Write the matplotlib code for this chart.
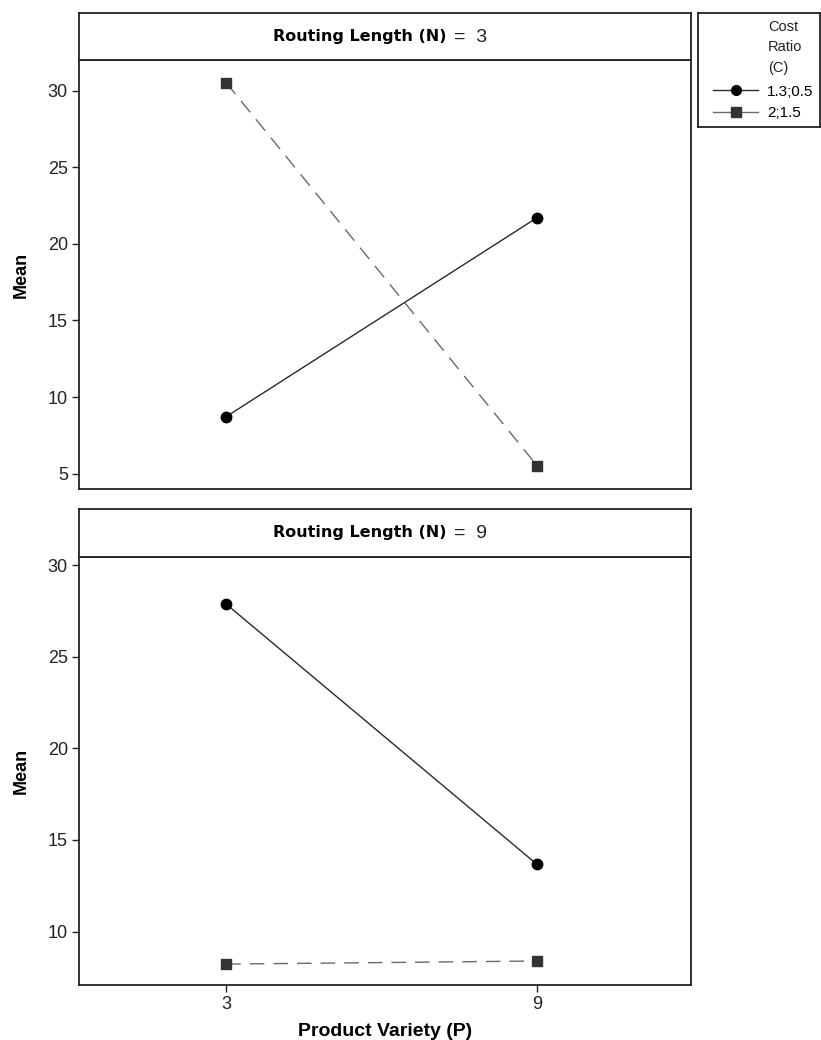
import matplotlib.pyplot as plt
from matplotlib.lines import Line2D

plt.rcParams['font.family'] = ['Liberation Sans', 'DejaVu Sans']

# data
product_variety = [3, 9]
routing_lengths = ['3', '9']
cost_ratios = ['1.3;0.5', '2;1.5']
means_n3 = {'1.3;0.5': [8.72, 21.71], '2;1.5': [30.52, 5.52]}
means_n9 = {'1.3;0.5': [27.87, 13.66], '2;1.5': [8.22, 8.39]}
panel_means = [means_n3, means_n9]
y_ticks = [[5, 10, 15, 20, 25, 30], [10, 15, 20, 25, 30]]
y_limits = [(4.0, 32.0), (7.08, 30.44)]

styles = {
    '1.3;0.5': dict(color='#2a2a2a', linestyle='-', marker='o', markersize=7.5,
                    markerfacecolor='black', markeredgecolor='black'),
    '2;1.5': dict(color='#6a6a6a', linestyle=(0, (10.5, 6.5)), marker='s', markersize=7.5,
                  markerfacecolor='#333333', markeredgecolor='#333333'),
}

W, H = 821, 1040
fig = plt.figure(figsize=(W / 100, H / 100), dpi=100)


def fig_rect(x0, y0, x1, y1):
    return [x0 / W, 1 - y1 / H, (x1 - x0) / W, (y1 - y0) / H]


panel_px = [(13, 60, 489), (509, 557, 985)]
spine_col = '#222222'

for i, (top, hdr, bot) in enumerate(panel_px):
    ax = fig.add_axes(fig_rect(79, hdr, 691, bot))
    for name in cost_ratios:
        ax.plot(product_variety, panel_means[i][name], lw=1.0, **styles[name])
    ax.set_xlim(0.16, 11.97)
    ax.set_ylim(*y_limits[i])
    ax.set_yticks(y_ticks[i])
    ax.tick_params(axis='y', direction='out', length=5, width=1, labelsize=13,
                   colors=spine_col, pad=3)
    for s in ax.spines.values():
        s.set_color(spine_col)
        s.set_linewidth(1.3)
    ax.set_ylabel('Mean', fontsize=13, fontweight='bold', labelpad=13)
    if i == 1:
        ax.set_xticks(product_variety)
        ax.tick_params(axis='x', direction='out', length=5, width=1, labelsize=13,
                       colors=spine_col, pad=3)
        ax.set_xlabel('Product Variety (P)', fontsize=14, fontweight='bold', labelpad=7)
    else:
        ax.set_xticks([])

    hx = fig.add_axes(fig_rect(79, top, 691, hdr))
    hx.set_xticks([])
    hx.set_yticks([])
    for s in hx.spines.values():
        s.set_color(spine_col)
        s.set_linewidth(1.3)
    hx.text(0.601, 0.5, 'Routing Length (N)', ha='right', va='center',
            fontsize=11.5, fontweight='bold', family=['DejaVu Sans'])
    hx.text(0.613, 0.48, '=  ' + routing_lengths[i], ha='left', va='center',
            fontsize=14, color='#222222')

# legend box
lx = fig.add_axes(fig_rect(698, 13, 820, 127))
lx.set_xticks([])
lx.set_yticks([])
for s in lx.spines.values():
    s.set_color(spine_col)
    s.set_linewidth(1.3)
lx.text(0.574, 0.94, 'Cost\nRatio\n(C)', ha='left', va='top', fontsize=10.5,
        linespacing=1.6, color='#222222')
handles = [Line2D([], [], lw=1.0, **dict(styles[n], linestyle='-', markersize=7))
           for n in cost_ratios]
lx.legend(handles, cost_ratios, loc='lower left', bbox_to_anchor=(0.12, 0.06),
          frameon=False, handlelength=3.0, handletextpad=0.55, borderpad=0,
          borderaxespad=0, labelspacing=0.5, prop={'size': 11})

fig.savefig('out.png', dpi=100)
